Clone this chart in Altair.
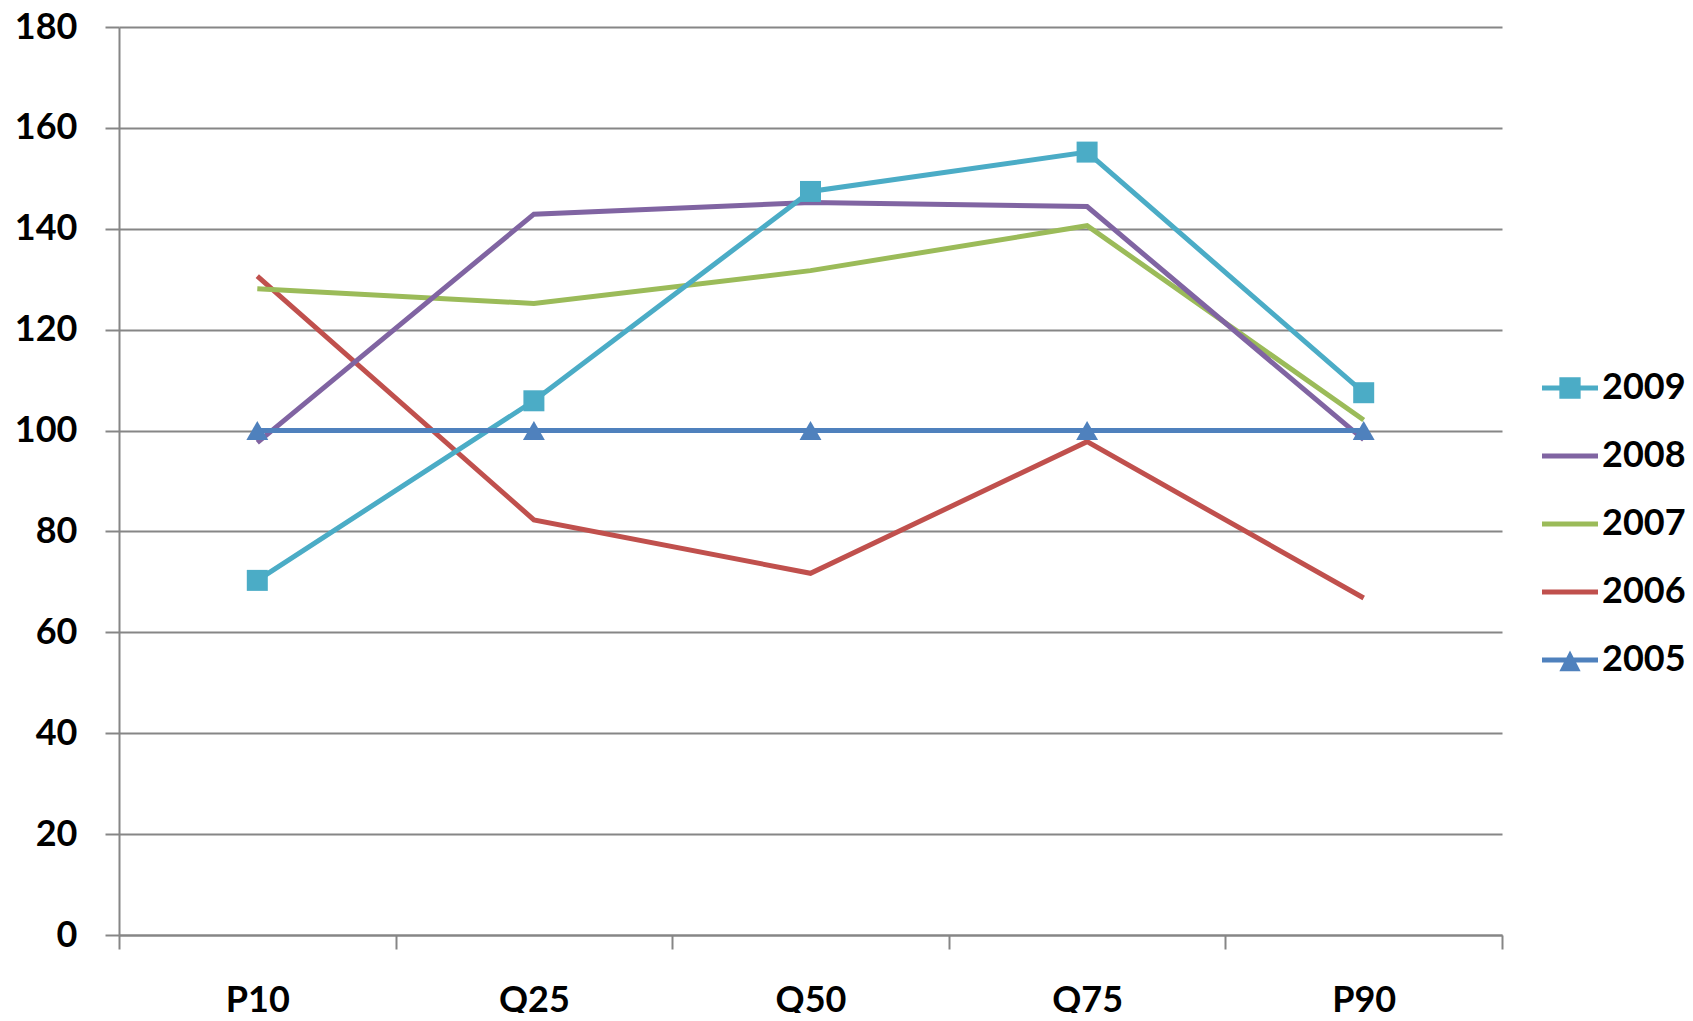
import altair as alt
import pandas as pd

categories = ["P10", "Q25", "Q50", "Q75", "P90"]
years = ["2009", "2008", "2007", "2006", "2005"]
colors = ["#4BACC6", "#8064A2", "#9BBB59", "#C0504D", "#4F81BD"]

v2009 = [70.3, 105.9, 147.4, 155.2, 107.5]
v2008 = [97.6, 142.9, 145.2, 144.4, 98.2]
v2007 = [128.1, 125.2, 131.7, 140.6, 102.1]
v2006 = [130.6, 82.3, 71.7, 97.8, 66.8]
v2005 = [100, 100, 100, 100, 100]

series = {"2009": v2009, "2008": v2008, "2007": v2007, "2006": v2006, "2005": v2005}
rows = []
for yr in ["2006", "2007", "2008", "2009", "2005"]:
    for c, v in zip(categories, series[yr]):
        rows.append({"cat": c, "year": yr, "value": v})
df = pd.DataFrame(rows)

GRAY = "#868686"
FONT = "Lato"

# legend symbols: line with optional marker (custom paths in [-1,1] box)
line_part = "M-1,-0.09H1V0.09H-1Z"
legend_shapes = [
    line_part + " M-0.38,-0.38H0.38V0.38H-0.38Z",
    line_part,
    line_part,
    line_part,
    line_part + " M0,-0.34L0.38,0.4H-0.38Z",
]

x_enc = alt.X(
    "cat:N",
    sort=categories,
    scale=alt.Scale(paddingInner=0, paddingOuter=0),
    axis=alt.Axis(
        title=None,
        labelAngle=0,
        labelFont=FONT,
        labelFontSize=36,
        labelFontWeight="bold",
        labelColor="#000000",
        labelPadding=34,
        tickBand="extent",
        tickSize=14,
        grid=False,
    ),
)
y_enc = alt.Y(
    "value:Q",
    scale=alt.Scale(domain=[0, 180], nice=False),
    axis=alt.Axis(
        title=None,
        values=list(range(0, 181, 20)),
        labelFont=FONT,
        labelFontSize=36,
        labelFontWeight="bold",
        labelColor="#000000",
        labelPadding=28,
        tickSize=14,
        grid=True,
    ),
)

leg_props = dict(
    orient="none",
    legendX=1423,
    legendY=333,
    title=None,
    padding=0,
    symbolSize=3136,
    symbolStrokeWidth=0,
    symbolOpacity=1,
    labelFont=FONT,
    labelFontSize=36,
    labelFontWeight="bold",
    labelColor="#000000",
    labelOffset=4,
    rowPadding=22,
)

legend_layer = alt.Chart(df).mark_point(filled=True, opacity=0).encode(
    x=x_enc,
    y=y_enc,
    color=alt.Color(
        "year:N",
        scale=alt.Scale(domain=years, range=colors),
        legend=alt.Legend(**leg_props),
    ),
    shape=alt.Shape(
        "year:N",
        scale=alt.Scale(domain=years, range=legend_shapes),
        legend=alt.Legend(**leg_props),
    ),
)

lines = alt.Chart(df).mark_line(strokeWidth=5).encode(
    x=x_enc,
    y=y_enc,
    color=alt.Color("year:N", scale=alt.Scale(domain=years, range=colors), legend=None),
    detail="year:N",
)

squares = (
    alt.Chart(df)
    .transform_filter(alt.datum.year == "2009")
    .mark_point(shape="square", filled=True, size=441, opacity=1, color=colors[0])
    .encode(x=x_enc, y=y_enc)
)

triangles = (
    alt.Chart(df)
    .transform_filter(alt.datum.year == "2005")
    .mark_point(shape="triangle-up", filled=True, size=480, opacity=1, color=colors[4])
    .encode(x=x_enc, y=y_enc)
)

chart = (
    alt.layer(legend_layer, lines, squares, triangles)
    .resolve_scale(color="independent", shape="independent")
    .properties(
        width=1383,
        height=908,
        autosize=alt.AutoSizeParams(type="none"),
        padding={"left": 111, "top": 19, "right": 183, "bottom": 78},
        background="#ffffff",
    )
    .configure_view(stroke=None)
    .configure_axis(
        domainColor=GRAY,
        domainWidth=2,
        tickColor=GRAY,
        tickWidth=2,
        gridColor=GRAY,
        gridWidth=2,
    )
)

chart.save("out.html", embed_options={"renderer": "svg", "actions": False})
